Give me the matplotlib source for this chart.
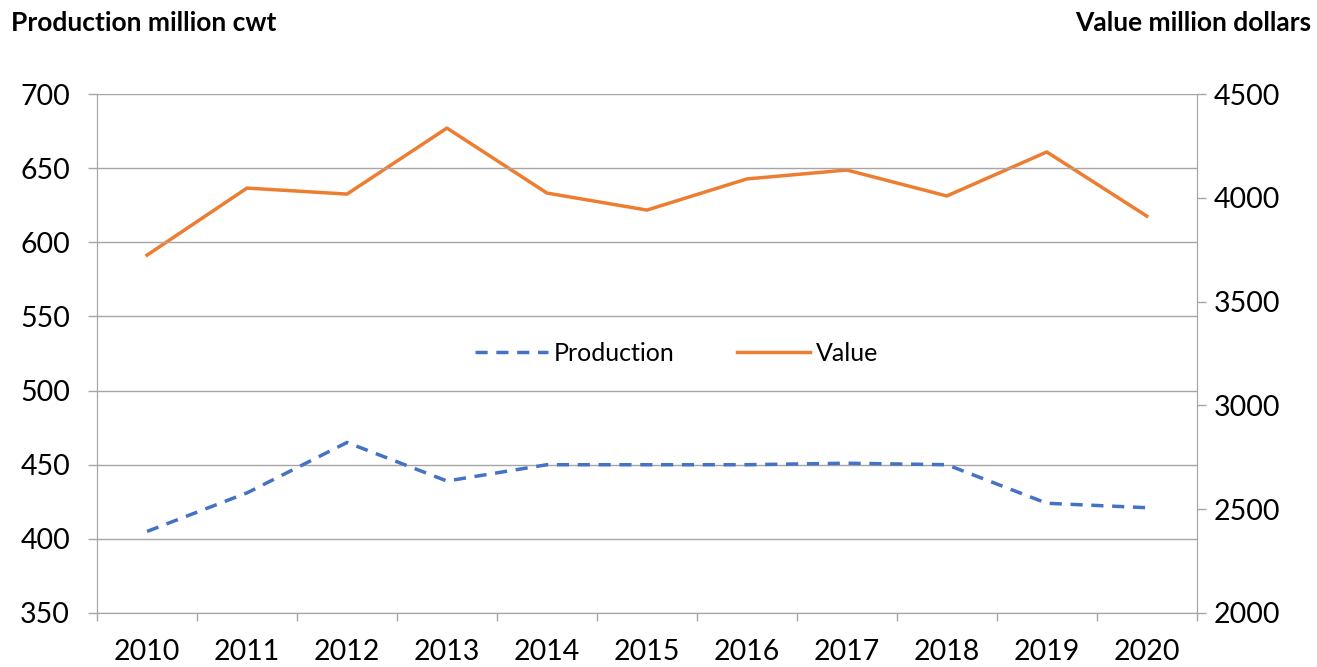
import numpy as np
import matplotlib.pyplot as plt

plt.rcParams['font.family'] = ['Lato', 'DejaVu Sans']

years = ['2010', '2011', '2012', '2013', '2014', '2015', '2016', '2017', '2018', '2019', '2020']
production = [405, 431, 465, 439, 450, 450, 450, 451, 450, 424, 421]
value = [3724, 4047, 4018, 4336, 4023, 3941, 4091, 4134, 4009, 4221, 3912]

x = np.arange(len(years))
grid_col = '#a6a6a6'

fig = plt.figure(figsize=(13.17, 6.67), dpi=100)
ax = fig.add_axes([0.0737, 0.081, 0.835, 0.778])
ax2 = ax.twinx()

l1, = ax.plot(x, production, color='#4472c4', lw=2.5, ls=(0, (3.5, 2.5)), label='Production')
l2, = ax2.plot(x, value, color='#ed7d31', lw=2.5, label='Value')

ax.set_xlim(-0.5, len(years) - 0.5)
ax.set_ylim(350, 700)
ax.set_yticks(np.arange(350, 701, 50))
ax2.set_ylim(2000, 4500)
ax2.set_yticks(np.arange(2000, 4501, 500))

# year labels sit between the boundary ticks
ax.set_xticks(np.arange(-0.5, len(years), 1.0))
ax.set_xticklabels([])
ax.set_xticks(x, minor=True)
ax.set_xticklabels(years, minor=True)
ax.tick_params(axis='x', which='major', length=6, color=grid_col, width=1)
ax.tick_params(axis='x', which='minor', length=0, pad=19, labelsize=20.5)
ax.tick_params(axis='y', length=6.5, color=grid_col, width=1, labelsize=20.5, pad=13)
ax2.tick_params(axis='y', length=6.5, color=grid_col, width=1, labelsize=20.5, pad=6)

ax.grid(axis='y', color=grid_col, lw=1)
for a in (ax, ax2):
    a.spines['top'].set_visible(False)
    for s in ('left', 'right', 'bottom'):
        a.spines[s].set_color(grid_col)
ax.set_zorder(ax2.get_zorder() + 1)
ax.patch.set_visible(False)

fig.text(0.008, 0.965, 'Production million cwt', fontsize=19, fontweight='bold', va='center', ha='left')
fig.text(0.996, 0.965, 'Value million dollars', fontsize=19, fontweight='bold', va='center', ha='right')

ax.legend([l1, l2], ['Production', 'Value'], loc='center', bbox_to_anchor=(0.527, 0.5),
          ncol=2, frameon=False, fontsize=18, handlelength=2.9, handletextpad=0.25,
          columnspacing=2.5)

fig.savefig('out.png', dpi=100)
